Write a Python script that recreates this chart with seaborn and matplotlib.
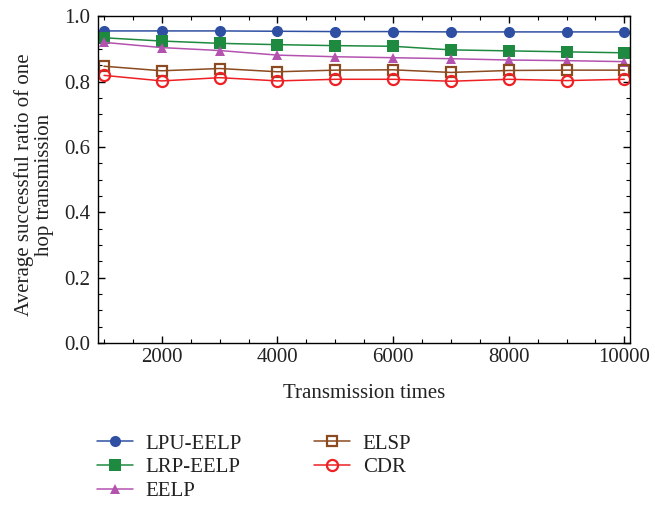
import matplotlib
matplotlib.use("Agg")
import matplotlib.pyplot as plt
import seaborn as sns
import pandas as pd
from matplotlib.ticker import MultipleLocator

x_times = [1000, 2000, 3000, 4000, 5000, 6000, 7000, 8000, 9000, 10000]
lpu_eelp = [0.955, 0.955, 0.955, 0.954, 0.953, 0.953, 0.952, 0.952, 0.952, 0.952]
lrp_eelp = [0.934, 0.924, 0.917, 0.913, 0.910, 0.908, 0.897, 0.894, 0.891, 0.888]
eelp = [0.920, 0.904, 0.895, 0.881, 0.876, 0.873, 0.870, 0.866, 0.864, 0.861]
elsp = [0.847, 0.833, 0.840, 0.830, 0.835, 0.836, 0.828, 0.834, 0.835, 0.835]
cdr = [0.819, 0.802, 0.812, 0.802, 0.807, 0.807, 0.801, 0.807, 0.803, 0.807]

series_names = ["LPU-EELP", "LRP-EELP", "EELP", "ELSP", "CDR"]
series_values = [lpu_eelp, lrp_eelp, eelp, elsp, cdr]
colors = ["#2f4fa2", "#1e8a40", "#b452b0", "#8b4a1f", "#ee2024"]
markers = ["o", "s", "^", "s", "o"]
msizes = [8, 8, 7.5, 7.5, 8]
filled = [True, True, True, False, False]

sns.set_theme(style="ticks")
plt.rcParams["font.family"] = ["Liberation Serif", "DejaVu Serif"]

fig = plt.figure(figsize=(6.55, 5.07), dpi=100)
ax = fig.add_axes([0.150, 0.3235, 0.812, 0.6445])

for name, vals, c, m, ms, f in zip(series_names, series_values, colors, markers, msizes, filled):
    df = pd.DataFrame({"x": x_times, "y": vals})
    sns.lineplot(data=df, x="x", y="y", ax=ax, color=c, marker=m, markersize=ms,
                 linewidth=1.1, label=name,
                 markerfacecolor=(c if f else "none"),
                 markeredgecolor=c, markeredgewidth=(0 if f else 1.6))

ax.set_xlim(900, 10100)
ax.set_ylim(0.0, 1.0)
ax.xaxis.set_major_locator(MultipleLocator(2000))
ax.xaxis.set_minor_locator(MultipleLocator(500))
ax.yaxis.set_major_locator(MultipleLocator(0.2))
ax.yaxis.set_minor_locator(MultipleLocator(0.05))
ax.set_yticks([0.0, 0.2, 0.4, 0.6, 0.8, 1.0])
ax.set_yticklabels(["0.0", "0.2", "0.4", "0.6", "0.8", "1.0"])
ax.tick_params(which="both", direction="in", top=True, right=True, colors="black",
               labelsize=15, labelcolor="#222222")
ax.tick_params(axis="y", pad=6)
ax.tick_params(which="major", length=5, width=1)
ax.tick_params(which="minor", length=3, width=0.8)
for s in ax.spines.values():
    s.set_color("black")
    s.set_linewidth(1)

ax.set_xlabel("Transmission times", fontsize=15, color="#222222", labelpad=12)
ax.set_ylabel("Average successful ratio of one\nhop transmission", fontsize=15,
              color="#222222", linespacing=1.1)
ax.yaxis.set_label_coords(-0.083, 0.483)

handles, labels = ax.get_legend_handles_labels()
ax.legend_.remove()
fig.legend(handles, labels,
           loc="upper left", bbox_to_anchor=(0.141, 0.152), ncol=2, frameon=False,
           fontsize=15, handlelength=1.75, handletextpad=0.6, columnspacing=3.45,
           labelspacing=0.2, borderaxespad=0, borderpad=0.2, labelcolor="#222222")

fig.savefig("out.png", dpi=100)
